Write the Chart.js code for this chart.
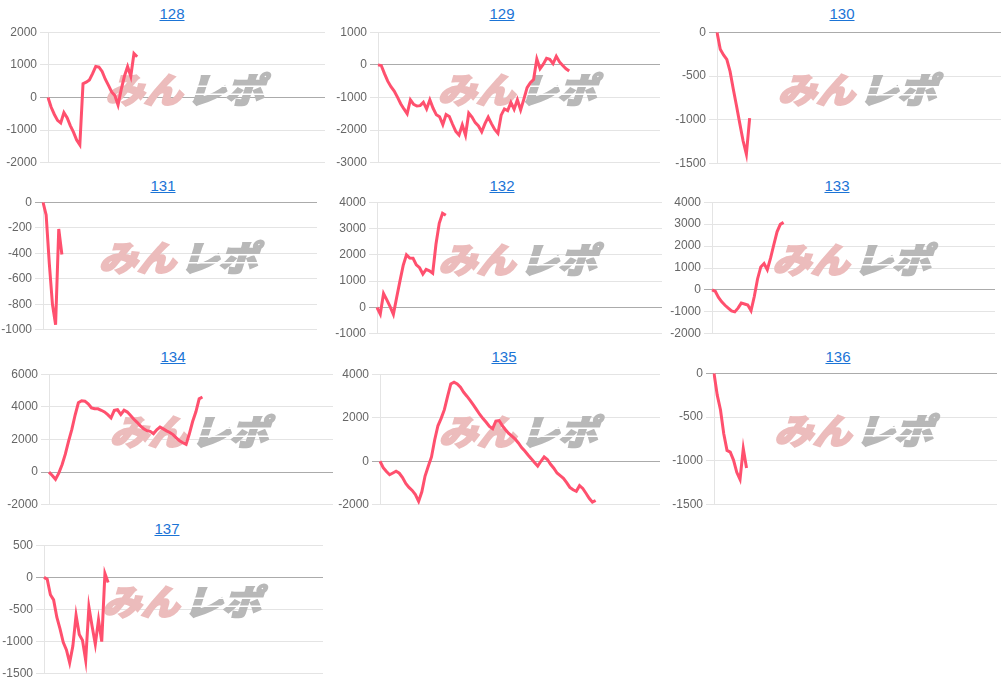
<!DOCTYPE html>
<html>
<head>
<meta charset="utf-8">
<script src="https://cdn.jsdelivr.net/npm/chart.js@4/dist/chart.umd.min.js"></script>
<style>
  html, body { margin: 0; padding: 0; background: #fff; }
  body { width: 1004px; height: 685px; position: relative; overflow: hidden; }
  .ttl { position: absolute; font: 15px Arial, "Liberation Sans", sans-serif; line-height: 17px; color: #1b74d6; text-decoration: underline; white-space: nowrap; transform: translateX(-50%); }
  canvas { position: absolute; }
</style>
</head>
<body>
<script>
// ---- data ----
const titles = ['128', '129', '130', '131', '132', '133', '134', '135', '136', '137'];
const xCount = 88; // category slots on every x axis
const categories = Array.from({ length: xCount }, (_, i) => String(i));

const s128 = [0, -300, -520, -700, -780, -460, -620, -860, -1060, -1300, -1450, 420, 470, 540, 730, 950, 930, 800, 560, 370, 170, 60, -230, 250, 650, 950, 650, 1350, 1250];
const s129 = [0, -20, -270, -500, -670, -800, -990, -1190, -1350, -1500, -1070, -1210, -1260, -1250, -1150, -1350, -1070, -1330, -1530, -1590, -1830, -1520, -1580, -1820, -2040, -2150, -1840, -2150, -1480, -1600, -1770, -1870, -2050, -1800, -1600, -1800, -1980, -2100, -1540, -1350, -1400, -1150, -1360, -1070, -1380, -1050, -700, -550, -450, 180, -120, 20, 200, 170, 40, 260, 90, -20, -120, -190];
const s130 = [0, -195, -260, -310, -447, -650, -845, -1045, -1240, -1390, -980];
const s131 = [0, -100, -480, -800, -960, -210, -410];
const s132 = [0, -250, 530, 290, 30, -260, 380, 1000, 1600, 2000, 1880, 1870, 1620, 1510, 1270, 1450, 1390, 1300, 2400, 3200, 3580, 3500];
const s133 = [0, -60, -340, -540, -700, -830, -960, -1000, -830, -600, -640, -690, -950, -300, 500, 1050, 1200, 920, 1450, 2060, 2650, 2990, 3080];
const s134 = [0, -200, -440, -60, 450, 1100, 1900, 2620, 3500, 4250, 4370, 4350, 4180, 3940, 3880, 3880, 3790, 3690, 3520, 3320, 3780, 3820, 3530, 3790, 3680, 3470, 3240, 3050, 2830, 2660, 2540, 2500, 2350, 2600, 2760, 2650, 2530, 2430, 2300, 2100, 1920, 1800, 1700, 2350, 3100, 3700, 4490, 4600];
const s135 = [0, -290, -470, -620, -540, -460, -550, -750, -1020, -1200, -1340, -1530, -1840, -1400, -680, -230, 200, 990, 1630, 1970, 2370, 2980, 3550, 3630, 3550, 3400, 3170, 2990, 2800, 2590, 2370, 2150, 1960, 1790, 1600, 1500, 1850, 1870, 1640, 1450, 1280, 1150, 1020, 840, 630, 470, 290, 120, -60, -220, 0, 200, 80, -140, -320, -540, -660, -780, -980, -1200, -1310, -1380, -1120, -1250, -1470, -1700, -1880, -1800];
const s136 = [0, -250, -420, -690, -880, -900, -990, -1130, -1210, -860, -1080];
const s137 = [0, -30, -270, -350, -620, -800, -1010, -1130, -1330, -1070, -590, -890, -980, -1290, -460, -760, -1040, -660, -1000, 60, -80];
const series = [s128, s129, s130, s131, s132, s133, s134, s135, s136, s137];

const yMin  = [-2000, -3000, -1500, -1000, -1000, -2000, -2000, -2000, -1500, -1500];
const yMax  = [ 2000,  1000,     0,     0,  4000,  4000,  6000,  4000,     0,   500];
const yStep = [ 1000,  1000,   500,   200,  1000,  1000,  2000,  2000,   500,   500];

// ---- layout (pixel boxes of each small chart) ----
const boxes = [
  { col: 0,   axis: 48,  right: 325,  top: 32,  bottom: 163, base: 18.3,  tx: 172 },
  { col: 335, axis: 378, right: 660,  top: 32,  bottom: 163, base: 18.3,  tx: 502 },
  { col: 670, axis: 717, right: 1001, top: 32,  bottom: 164, base: 18.3,  tx: 842 },
  { col: 0,   axis: 43,  right: 317,  top: 202, bottom: 330, base: 190.5, tx: 163 },
  { col: 335, axis: 377, right: 662,  top: 202, bottom: 334, base: 190.5, tx: 502 },
  { col: 670, axis: 712, right: 995,  top: 202, bottom: 334, base: 190.5, tx: 837 },
  { col: 0,   axis: 49,  right: 333,  top: 374, bottom: 505, base: 361.5, tx: 173 },
  { col: 335, axis: 380, right: 660,  top: 374, bottom: 505, base: 361.5, tx: 504 },
  { col: 670, axis: 714, right: 997,  top: 373, bottom: 505, base: 361.5, tx: 838 },
  { col: 0,   axis: 44,  right: 323,  top: 545, bottom: 674, base: 533.3, tx: 167 }
];

Chart.defaults.font.family = 'Arial, "Liberation Sans", sans-serif';
Chart.defaults.font.size = 12;
Chart.defaults.color = '#666';

const watermark = {
  id: 'wm',
  beforeDatasetsDraw(chart) {
    const { ctx, chartArea: a } = chart;
    const cx = (a.left + a.right) / 2, cy = (a.top + a.bottom) / 2 - 9;
    ctx.save();
    ctx.translate(cx, cy);
    ctx.transform(1.1, 0, -0.32, 1, 0, 0);
    ctx.font = '900 35px "Noto Sans CJK JP", "Noto Sans CJK SC", sans-serif';
    ctx.textBaseline = 'middle';
    ctx.textAlign = 'right';
    ctx.fillStyle = '#ecbcbc';
    ctx.strokeStyle = '#ecbcbc';
    ctx.lineWidth = 2;
    ctx.strokeText('みん', 0, 1);
    ctx.fillText('みん', 0, 1);
    ctx.textAlign = 'left';
    ctx.fillStyle = '#b8b8b8';
    ctx.strokeStyle = '#b8b8b8';
    ctx.strokeText('レポ', 4, 1);
    ctx.fillText('レポ', 4, 1);
    // speed-line cuts through the grey part
    ctx.fillStyle = '#ffffff';
    ctx.fillRect(4, -3, 76, 1.5);
    ctx.fillRect(4, 5, 76, 1.5);
    ctx.restore();
  }
};

const PAD = 10;
boxes.forEach((b, k) => {
  const t = document.createElement('div');
  t.className = 'ttl';
  t.textContent = titles[k];
  t.style.left = b.tx + 'px';
  t.style.top = (b.base - 13.7) + 'px';
  document.body.appendChild(t);

  const cv = document.createElement('canvas');
  const top = Math.round(b.top - PAD);
  const h = Math.round(b.bottom - b.top + 2 * PAD);
  const w = Math.round(b.right - b.col);
  cv.width = w; cv.height = h;
  cv.style.left = b.col + 'px';
  cv.style.top = top + 'px';
  cv.style.width = w + 'px';
  cv.style.height = h + 'px';
  document.body.appendChild(cv);

  const axisW = b.axis - b.col;
  new Chart(cv, {
    type: 'line',
    data: {
      labels: categories,
      datasets: [{
        data: series[k],
        borderColor: 'rgb(255, 80, 110)',
        backgroundColor: 'rgb(255, 80, 110)',
        borderWidth: 3,
        pointRadius: 0,
        pointHoverRadius: 0,
        tension: 0,
        fill: false
      }]
    },
    options: {
      responsive: false,
      animation: false,
      events: [],
      layout: { padding: { top: PAD, bottom: PAD, left: 0, right: 0 } },
      plugins: { legend: { display: false }, tooltip: { enabled: false }, title: { display: false } },
      scales: {
        x: { display: false, offset: false },
        y: {
          min: yMin[k], max: yMax[k],
          ticks: { stepSize: yStep[k], color: '#666', padding: 3, font: { size: 12 }, callback: (v) => String(v) },
          grid: {
            color: (c) => (c.tick && c.tick.value === 0) ? '#ababab' : '#e4e4e4',
            tickLength: 8
          },
          border: { color: '#e4e4e4' },
          afterFit: (s) => { s.width = axisW; }
        }
      }
    },
    plugins: [watermark]
  });
});
</script>
</body>
</html>
